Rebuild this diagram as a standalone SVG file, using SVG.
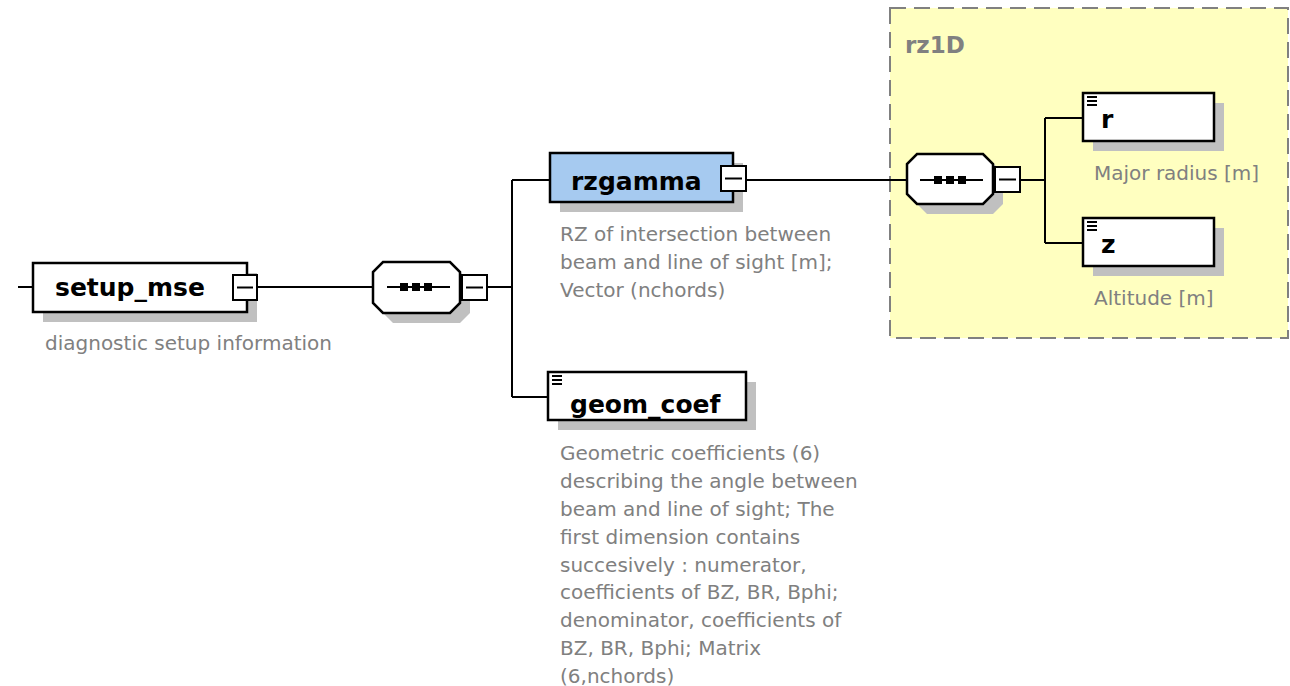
<svg xmlns="http://www.w3.org/2000/svg" width="1290" height="686" viewBox="0 0 1290 686">
<defs>
<style>
.box{fill:#fff;stroke:#000;stroke-width:2.5}
.sel{fill:#a6caf0;stroke:#000;stroke-width:2.5}
.sh{fill:#c0c0c0}
.ln{fill:none;stroke:#000;stroke-width:2}
.btn{fill:#fff;stroke:#000;stroke-width:2}
.name{font-family:"DejaVu Sans",sans-serif;font-weight:bold;font-size:25px;fill:#000}
.desc{font-family:"DejaVu Sans",sans-serif;font-size:20px;fill:#808080}
.grp{font-family:"DejaVu Sans",sans-serif;font-weight:bold;font-size:23px;fill:#808080}
</style>
</defs>
<g id="group-rz1D">
<rect x="890" y="8" width="398" height="330" fill="#ffffc0" stroke="#808080" stroke-width="2" stroke-dasharray="16,8"/>
<text class="grp" x="905" y="53">rz1D</text>
</g>
<g id="connectors">
<path class="ln" d="M18,287H33 M258,287H373 M487,287H512 M512,180V397 M512,180H550 M512,397H548 M746,180H907 M1020,180H1045 M1045,118V243 M1045,118H1083 M1045,243H1083"/>
</g>
<g id="node-setup_mse">
<rect class="sh" x="43" y="273" width="214" height="49"/>
<rect class="box" x="33" y="263" width="214" height="49"/>
<rect class="btn" x="233" y="275" width="24" height="25"/>
<path class="ln" d="M237,287.5H253"/>
<text class="name" x="55" y="296">setup_mse</text>
<text class="desc" x="45" y="350">diagnostic setup information</text>
</g>
<g id="node-seq1">
<polygon class="sh" points="393,272 460,272 470,282 470,313 460,323 393,323 383,313 383,282"/>
<polygon class="box" points="383,262 450,262 460,272 460,303 450,313 383,313 373,303 373,272"/>
<path class="ln" d="M387,287H450"/>
<rect x="400" y="283" width="8" height="8"/><rect x="412" y="283" width="8" height="8"/><rect x="424" y="283" width="8" height="8"/>
<rect class="btn" x="462" y="275" width="25" height="25"/>
<path class="ln" d="M466,287.5H483"/>
</g>
<g id="node-rzgamma">
<rect class="sh" x="560" y="163" width="183" height="49"/>
<rect class="sel" x="550" y="153" width="183" height="49"/>
<rect class="btn" x="721" y="166" width="25" height="25"/>
<path class="ln" d="M725,178.5H742"/>
<text class="name" x="571" y="190">rzgamma</text>
<text class="desc" x="560" y="241">RZ of intersection between</text>
<text class="desc" x="560" y="269">beam and line of sight [m];</text>
<text class="desc" x="560" y="297">Vector (nchords)</text>
</g>
<g id="node-geom_coef">
<rect class="sh" x="558" y="382" width="198" height="48"/>
<rect class="box" x="548" y="372" width="198" height="48"/>
<path class="ln" d="M552,376h10M552,380h10M552,384h10" stroke-width="1.5"/>
<text class="name" x="570" y="413">geom_coef</text>
<text class="desc" x="560" y="460">Geometric coefficients (6)</text>
<text class="desc" x="560" y="488">describing the angle between</text>
<text class="desc" x="560" y="516">beam and line of sight; The</text>
<text class="desc" x="560" y="544">first dimension contains</text>
<text class="desc" x="560" y="572">succesively : numerator,</text>
<text class="desc" x="560" y="599">coefficients of BZ, BR, Bphi;</text>
<text class="desc" x="560" y="627">denominator, coefficients of</text>
<text class="desc" x="560" y="655">BZ, BR, Bphi; Matrix</text>
<text class="desc" x="560" y="683">(6,nchords)</text>
</g>
<g id="node-seq2">
<polygon class="sh" points="927,163 993,163 1003,173 1003,204 993,214 927,214 917,204 917,173"/>
<polygon class="box" points="917,154 983,154 993,164 993,194 983,204 917,204 907,194 907,164"/>
<path class="ln" d="M920,180H983"/>
<rect x="934" y="176" width="8" height="8"/><rect x="946" y="176" width="8" height="8"/><rect x="958" y="176" width="8" height="8"/>
<rect class="btn" x="995" y="167" width="25" height="25"/>
<path class="ln" d="M999,179.5H1016"/>
</g>
<g id="node-r">
<rect class="sh" x="1093" y="103" width="131" height="48"/>
<rect class="box" x="1083" y="93" width="131" height="48"/>
<path class="ln" d="M1087,97h10M1087,101h10M1087,105h10" stroke-width="1.5"/>
<text class="name" x="1101" y="128">r</text>
<text class="desc" x="1094" y="180">Major radius [m]</text>
</g>
<g id="node-z">
<rect class="sh" x="1093" y="228" width="131" height="48"/>
<rect class="box" x="1083" y="218" width="131" height="48"/>
<path class="ln" d="M1087,222h10M1087,226h10M1087,230h10" stroke-width="1.5"/>
<text class="name" x="1101" y="253">z</text>
<text class="desc" x="1094" y="305">Altitude [m]</text>
</g>
</svg>
